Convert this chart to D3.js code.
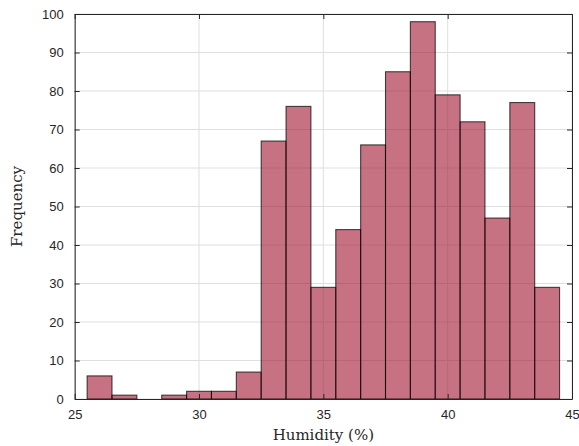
<!DOCTYPE html>
<html>
<head>
<meta charset="utf-8">
<script src="https://cdn.jsdelivr.net/npm/d3@7"></script>
<style>
body { margin: 0; background: #fff; }
</style>
</head>
<body>
<script>
// bin edges (width 1) and counts
var binStarts = [25.5, 26.5, 27.5, 28.5, 29.5, 30.5, 31.5, 32.5, 33.5, 34.5, 35.5, 36.5, 37.5, 38.5, 39.5, 40.5, 41.5, 42.5, 43.5];
var counts = [6, 1, 0, 1, 2, 2, 7, 67, 76, 29, 44, 66, 85, 98, 79, 72, 47, 77, 29];
var xTicks = [25, 30, 35, 40, 45];
var yTicks = [0, 10, 20, 30, 40, 50, 60, 70, 80, 90, 100];

var w = 579, h = 446;
// plot box (note: "top" is a reserved window property, so use m*)
var mLeft = 74.7, mRight = 572, mTop = 14, mBottom = 399;

var svg = d3.select("body").append("svg")
	.attr("width", w)
	.attr("height", h);

var x = d3.scaleLinear().domain([25, 45]).range([mLeft, mRight]);
var y = d3.scaleLinear().domain([0, 100]).range([mBottom, mTop]);

var axisColor = "#262626";

// grid
svg.append("g").selectAll("line")
	.data(xTicks)
	.enter().append("line")
	.attr("x1", function(d){ return x(d); })
	.attr("x2", function(d){ return x(d); })
	.attr("y1", mTop).attr("y2", mBottom)
	.style("stroke", "#dfdfdf").style("stroke-width", 1);
svg.append("g").selectAll("line")
	.data(yTicks)
	.enter().append("line")
	.attr("y1", function(d){ return y(d); })
	.attr("y2", function(d){ return y(d); })
	.attr("x1", mLeft).attr("x2", mRight)
	.style("stroke", "#dfdfdf").style("stroke-width", 1);

// bars
svg.append("g").selectAll("rect")
	.data(counts)
	.enter().append("rect")
	.attr("x", function(d, i){ return x(binStarts[i]); })
	.attr("width", function(d, i){ return x(binStarts[i] + 1) - x(binStarts[i]); })
	.attr("y", function(d){ return y(d); })
	.attr("height", function(d){ return y(0) - y(d); })
	.style("fill", "#A2142F")
	.style("fill-opacity", 0.6)
	.style("stroke", "#000")
	.style("stroke-opacity", 0.7)
	.style("stroke-width", 1.1);

// axes (MATLAB style, ticks inward, box on)
var xAxis = d3.axisBottom(x).tickValues(xTicks).tickSize(-5).tickPadding(11).tickSizeOuter(0);
var yAxis = d3.axisLeft(y).tickValues(yTicks).tickSize(-5).tickPadding(11).tickSizeOuter(0);

var gx = svg.append("g").attr("transform", "translate(0," + mBottom + ")").call(xAxis);
var gy = svg.append("g").attr("transform", "translate(" + mLeft + ",0)").call(yAxis);
var gxTop = svg.append("g").attr("transform", "translate(0," + mTop + ")")
	.call(d3.axisTop(x).tickValues(xTicks).tickSize(-5).tickSizeOuter(0).tickFormat(""));
var gyRight = svg.append("g").attr("transform", "translate(" + mRight + ",0)")
	.call(d3.axisRight(y).tickValues(yTicks).tickSize(-5).tickSizeOuter(0).tickFormat(""));

[gx, gy, gxTop, gyRight].forEach(function(g){
	g.selectAll("path").style("stroke", axisColor).style("stroke-width", 1);
	g.selectAll("line").style("stroke", axisColor).style("stroke-width", 1);
	g.selectAll("text")
		.style("fill", axisColor)
		.style("font-family", "'Liberation Sans', Arial, sans-serif")
		.style("font-size", "13px");
});

// axis labels
svg.append("text")
	.text("Humidity (%)")
	.attr("x", (mLeft + mRight) / 2)
	.attr("y", 440)
	.attr("text-anchor", "middle")
	.style("font-family", "'DejaVu Serif', 'Liberation Serif', serif")
	.style("font-size", "15px")
	.style("fill", axisColor);

svg.append("text")
	.text("Frequency")
	.attr("transform", "translate(22," + ((mTop + mBottom) / 2) + ") rotate(-90)")
	.attr("text-anchor", "middle")
	.style("font-family", "'DejaVu Serif', 'Liberation Serif', serif")
	.style("font-size", "15px")
	.style("fill", axisColor);
</script>
</body>
</html>
